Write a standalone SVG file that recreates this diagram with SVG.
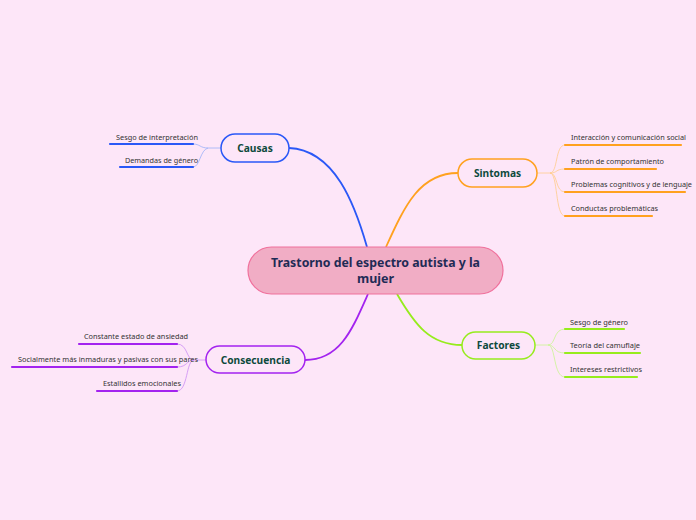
<svg xmlns="http://www.w3.org/2000/svg" width="696" height="520" viewBox="0 0 696 520">
<style>
.bg{fill:#fde6f8}
.node rect{fill:#fde6f8;stroke-width:1.5}
.lbl{font-family:"Noto Sans","Open Sans",sans-serif;font-weight:bold;font-size:10.2px;fill:#0e4a3c;text-anchor:middle}
.sub{font-family:"Noto Sans","Open Sans",sans-serif;font-size:7.3px;fill:#333333}
.main{fill:none;stroke-width:1.8}
.thin{fill:none;stroke-width:0.8}
.ul{stroke-width:2.2;stroke-linecap:round}
.blue{stroke:#2a58f7}
.orange{stroke:#ffa11f}
.green{stroke:#96ec1c}
.purple{stroke:#a323ef}
.tblue{stroke:#9ab0f8}
.torange{stroke:#ffcb8a}
.tgreen{stroke:#c9f590}
.tpurple{stroke:#cc8df4}
</style>
<rect class="bg" x="0" y="0" width="696" height="520"/>
<g id="connectors">
<path class="main blue" d="M367,247 C355,205 335,150 289,148"/>
<path class="main orange" d="M386,247 C405,205 420,173 458,173"/>
<path class="main green" d="M397,294 C415,325 430,345 462,345"/>
<path class="main purple" d="M368,294 C352,330 340,360 305,360"/>
<path class="thin tblue" d="M221,148 L208,148 C200,148 200,144 193,144"/>
<path class="thin tblue" d="M208,148 C200,150 200,167 193,167"/>
<path class="thin torange" d="M537,173 L550,173 C558,173 555,145 565,145"/>
<path class="thin torange" d="M550,173 C558,173 555,169 565,169"/>
<path class="thin torange" d="M550,173 C558,173 555,192 565,192"/>
<path class="thin torange" d="M550,173 C558,173 555,216 565,216"/>
<path class="thin tgreen" d="M535,345 L548,345 C556,345 553,329 565,329"/>
<path class="thin tgreen" d="M548,345 C556,345 553,353 565,353"/>
<path class="thin tgreen" d="M548,345 C556,345 553,377 565,377"/>
<path class="thin tpurple" d="M206,360 L194,360 C186,360 188,344 177,344"/>
<path class="thin tpurple" d="M194,360 C186,360 188,367 177,367"/>
<path class="thin tpurple" d="M194,360 C186,360 188,391 177,391"/>
</g>
<g id="central">
<rect x="248" y="247" width="255" height="47" rx="23.5" fill="#f1adc5" stroke="#f0709c" stroke-width="1.2"/>
<text x="375.5" y="267" font-family="Noto Sans,Open Sans,sans-serif" font-weight="bold" font-size="12.5" fill="#1f2b55" text-anchor="middle" textLength="209" lengthAdjust="spacingAndGlyphs">Trastorno del espectro autista y la</text>
<text x="375.5" y="283" font-family="Noto Sans,Open Sans,sans-serif" font-weight="bold" font-size="12.5" fill="#1f2b55" text-anchor="middle">mujer</text>
</g>
<g id="causas" class="node">
<rect x="221" y="134" width="68" height="28" rx="14" class="blue"/>
<text class="lbl" x="255" y="152">Causas</text>
<line class="ul blue" x1="110" y1="144" x2="193" y2="144"/>
<text class="sub" x="116" y="140" textLength="82" lengthAdjust="spacingAndGlyphs">Sesgo de interpretación</text>
<line class="ul blue" x1="120" y1="167" x2="193" y2="167"/>
<text class="sub" x="125" y="163" textLength="73" lengthAdjust="spacingAndGlyphs">Demandas de género</text>
</g>
<g id="sintomas" class="node">
<rect x="458" y="159" width="79" height="28" rx="14" class="orange"/>
<text class="lbl" x="497.5" y="177">Sintomas</text>
<line class="ul orange" x1="565" y1="145" x2="681" y2="145"/>
<text class="sub" x="571" y="140" textLength="115" lengthAdjust="spacingAndGlyphs">Interacción y comunicación social</text>
<line class="ul orange" x1="565" y1="169" x2="656" y2="169"/>
<text class="sub" x="571" y="164" textLength="93" lengthAdjust="spacingAndGlyphs">Patrón de comportamiento</text>
<line class="ul orange" x1="565" y1="192" x2="685" y2="192"/>
<text class="sub" x="571" y="187" textLength="121" lengthAdjust="spacingAndGlyphs">Problemas cognitivos y de lenguaje</text>
<line class="ul orange" x1="565" y1="216" x2="652" y2="216"/>
<text class="sub" x="571" y="211" textLength="87" lengthAdjust="spacingAndGlyphs">Conductas problemáticas</text>
</g>
<g id="factores" class="node">
<rect x="462" y="332" width="73" height="27" rx="13.5" class="green"/>
<text class="lbl" x="498.5" y="349">Factores</text>
<line class="ul green" x1="565" y1="329" x2="624" y2="329"/>
<text class="sub" x="570" y="325" textLength="58" lengthAdjust="spacingAndGlyphs">Sesgo de género</text>
<line class="ul green" x1="565" y1="353" x2="640" y2="353"/>
<text class="sub" x="570" y="348" textLength="70" lengthAdjust="spacingAndGlyphs">Teoría del camuflaje</text>
<line class="ul green" x1="565" y1="377" x2="637" y2="377"/>
<text class="sub" x="570" y="372" textLength="72" lengthAdjust="spacingAndGlyphs">Intereses restrictivos</text>
</g>
<g id="consecuencia" class="node">
<rect x="206" y="346" width="99" height="27" rx="13.5" class="purple"/>
<text class="lbl" x="255.5" y="363.5">Consecuencia</text>
<line class="ul purple" x1="79" y1="344" x2="177" y2="344"/>
<text class="sub" x="84" y="339" textLength="104" lengthAdjust="spacingAndGlyphs">Constante estado de ansiedad</text>
<line class="ul purple" x1="12" y1="367" x2="177" y2="367"/>
<text class="sub" x="18" y="362" textLength="180" lengthAdjust="spacingAndGlyphs">Socialmente más inmaduras y pasivas con sus pares</text>
<line class="ul purple" x1="97" y1="391" x2="177" y2="391"/>
<text class="sub" x="103" y="386" textLength="78" lengthAdjust="spacingAndGlyphs">Estallidos emocionales</text>
</g>
</svg>
